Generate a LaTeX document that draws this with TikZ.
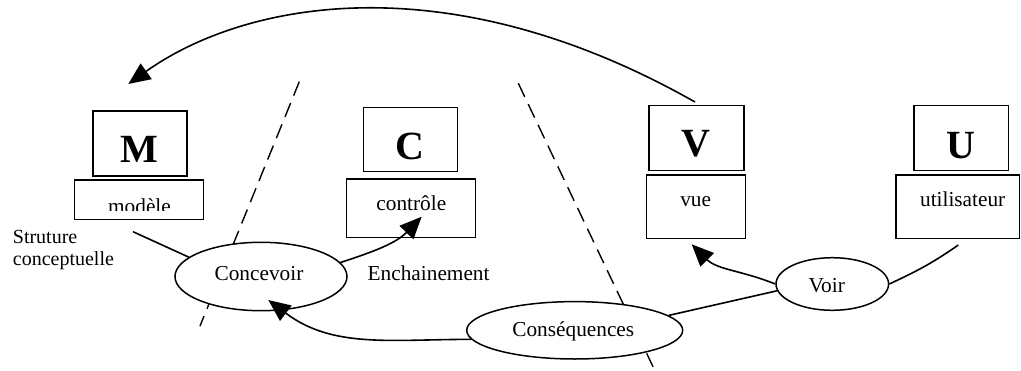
\documentclass[tikz,border=0pt]{standalone}
\usepackage{fontspec}
\setmainfont{Liberation Serif}
\usetikzlibrary{shapes.geometric,arrows.meta}
\begin{document}
\begin{tikzpicture}[x=1pt,y=-1pt,
  box/.style={draw,rectangle,line width=1.5pt,inner sep=0pt},
  lbl/.style={inner sep=0pt,anchor=base,font=\fontsize{21.3}{25.6}\selectfont},
  small/.style={inner sep=0pt,anchor=base west,font=\fontsize{20}{24}\selectfont},
  big/.style={inner sep=0pt,anchor=base,font=\bfseries\fontsize{40}{48}\selectfont},
  oval/.style={draw,ellipse,fill=white,line width=1.5pt,inner sep=0pt},
  conn/.style={line width=1.6pt},
  arr/.style={conn,-{Triangle[length=22pt,width=19pt]}},
  sepline/.style={line width=1.4pt,dash pattern=on 15pt off 8pt}]
\useasboundingbox (0,0) rectangle (1021,370);

% dashed separators
\coordinate (d1a) at (299.3,81.7);
\coordinate (d1b) at (200,326);
\coordinate (d2a) at (518.3,83.3);
\coordinate (d2b) at (653.3,367.3);
\draw[sepline] (d1a) -- (d1b);
\draw[sepline] (d2a) -- (d2b);

% boxes
\node[box,minimum width=94pt,minimum height=65pt] (Mbox) at (140,143.5) {};
\node[box,minimum width=129pt,minimum height=39.3pt] (modbox) at (138.8,199.7) {};
\node[box,minimum width=94.4pt,minimum height=64.4pt] (Cbox) at (410.5,139.5) {};
\node[box,minimum width=129pt,minimum height=58.7pt] (ctrlbox) at (411.2,208.3) {};
\node[box,minimum width=95pt,minimum height=64.6pt] (Vbox) at (696.5,138) {};
\node[box,minimum width=99pt,minimum height=63.3pt] (vuebox) at (696.2,206.7) {};
\node[box,minimum width=94.7pt,minimum height=64.6pt] (Ubox) at (961.3,138) {};
\node[box,minimum width=123.3pt,minimum height=63.3pt] (utilbox) at (957.7,206.7) {};

\node[big] (Mt) at (139.5,162.7) {M};
\node[big] (Ct) at (409.5,159.3) {C};
\node[big] (Vt) at (696,156.7) {V};
\node[big] (Ut) at (960.7,158.3) {U};

\begin{scope}
  \clip (75,181) rectangle (203,210);
  \node[lbl] (modt) at (139.5,213.5) {modèle};
\end{scope}
\node[lbl] (ctrlt) at (411.3,210.5) {contrôle};
\node[lbl] (vuet) at (695.7,206.7) {vue};
\node[lbl] (utilt) at (962.7,206) {utilisateur};

\node[small] (struct1) at (12.7,243.3) {Struture};
\node[small] (struct2) at (12.7,265) {conceptuelle};
\node[lbl,anchor=base west] (ench) at (367.5,280) {Enchainement};

% ellipses
\node[oval,minimum width=172pt,minimum height=68.4pt] (conc) at (261,276.5) {};
\node[lbl] (concT) at (259,280) {Concevoir};
\node[oval,minimum width=216pt,minimum height=57.4pt] (cons) at (574.7,330.3) {};
\node[lbl] (consT) at (573.3,336.7) {Conséquences};
\node[oval,minimum width=112.6pt,minimum height=52.6pt] (voir) at (832.3,284) {};
\node[lbl] (voirT) at (826.7,292.7) {Voir};

% free ends
\coordinate (mStart) at (133,231.7);
\coordinate (ctrlTip) at (421.7,216.7);
\coordinate (concTip) at (268.3,300);
\coordinate (vueTip) at (691.7,244.3);
\coordinate (uStart) at (958.3,245);
\coordinate (arcS) at (695,102);
\coordinate (arcT) at (128.3,84);

% connectors
\draw[conn] (mStart) -- (conc.165);
\draw[arr] (conc.10) to[out=18,in=226] (ctrlTip);
\draw[arr] (cons.185) to[out=180,in=-37] (concTip);
\draw[arr] (voir.west) to[out=158,in=-45] (vueTip);
\draw[conn] (voir.187) -- (cons.9);
\draw[conn] (uStart) to[out=215,in=25] (voir.east);
\draw[arr] (arcS) .. controls (448,-38) and (245,1) .. (arcT);
\end{tikzpicture}
\end{document}
